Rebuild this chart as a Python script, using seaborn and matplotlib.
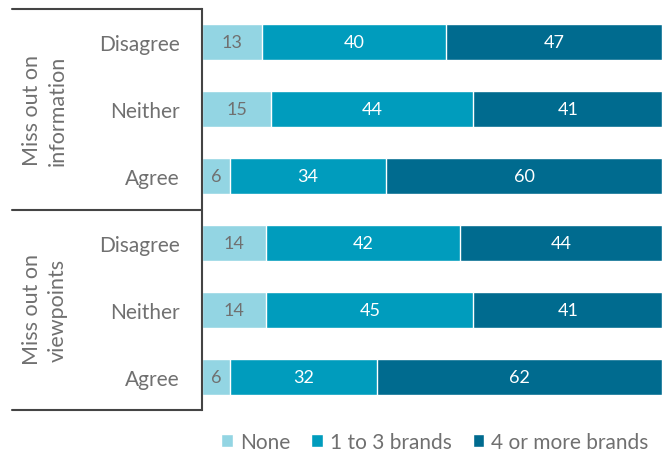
import seaborn as sns
import matplotlib.pyplot as plt
import pandas as pd

groups = ["Miss out on\ninformation", "Miss out on\nviewpoints"]
answers = ["Disagree", "Neither", "Agree", "Disagree", "Neither", "Agree"]
none = [13, 15, 6, 14, 14, 6]
one_to_three = [40, 44, 34, 42, 45, 32]
four_plus = [47, 41, 60, 44, 41, 62]

series = ["None", "1 to 3 brands", "4 or more brands"]
colors = ["#93d5e3", "#009cbd", "#006b8f"]
grey = "#707070"

sns.set_style("white")
plt.rcParams['font.family'] = ['Lato', 'DejaVu Sans']

rows = [str(i) for i in range(len(answers))]
df = pd.DataFrame({"row": rows, "none": none, "mid": one_to_three, "four": four_plus})
df["c1"] = df["none"]
df["c2"] = df["none"] + df["mid"]
df["c3"] = df["c2"] + df["four"]

fig = plt.figure(figsize=(6.69, 4.52), dpi=100)
ax = fig.add_axes([202/669, 1-411/452, 460/669, 401/452])

# stacked bars drawn back to front
for col, c, lab in zip(["c3", "c2", "c1"], colors[::-1], series[::-1]):
    sns.barplot(data=df, x=col, y="row", color=c, width=0.54, ax=ax,
                orient="h", label=lab, saturation=1)

fs = 15
bfs = 13
for i, r in df.iterrows():
    ax.text(r["none"]/2, i, str(r["none"]), ha="center", va="center", color=grey, fontsize=bfs)
    ax.text(r["none"] + r["mid"]/2, i, str(r["mid"]), ha="center", va="center", color="white", fontsize=bfs)
    ax.text(r["c2"] + r["four"]/2, i, str(r["four"]), ha="center", va="center", color="white", fontsize=bfs)

ax.set_xlim(0, 100)
ax.set_ylim(5.5, -0.5)
ax.set_xticks([])
ax.set_yticks(range(len(answers)))
ax.set_yticklabels(answers, color=grey, fontsize=fs)
ax.tick_params(axis="y", length=0, pad=16)
ax.set_xlabel("")
ax.set_ylabel("")
for s in ["top", "right", "bottom"]:
    ax.spines[s].set_visible(False)
ax.spines["left"].set_color("#444444")
ax.spines["left"].set_linewidth(1.5)

# group separators and labels
for y in [10, 211, 411]:
    fig.add_artist(plt.Line2D([12/669, 202/669], [1-y/452, 1-y/452], color="#444444", lw=1.5))
for g, yc in zip(groups, [111, 310]):
    fig.text(45/669, 1-yc/452, g, rotation=90, ha="center", va="center",
             color=grey, fontsize=15.5, linespacing=1.35)

handles, labels = ax.get_legend_handles_labels()
order = [labels.index(s) for s in series]
leg = ax.legend([handles[i] for i in order], series, loc="center",
                bbox_to_anchor=(435/669, 1-443/452), bbox_transform=fig.transFigure,
                ncol=3, frameon=False, fontsize=fs, handlelength=0.55, handleheight=0.55,
                handletextpad=0.35, columnspacing=1.0)
for t in leg.get_texts():
    t.set_color(grey)

fig.savefig("out.png", dpi=100)
